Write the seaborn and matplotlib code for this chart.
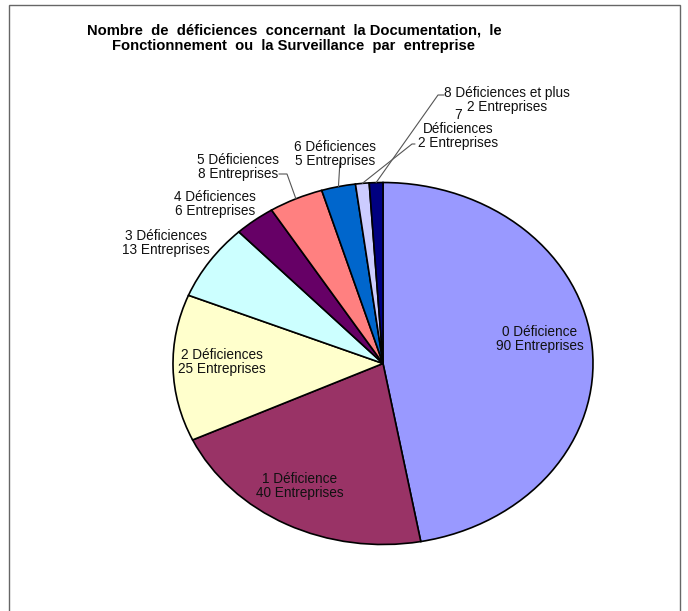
import matplotlib
matplotlib.use("Agg")
import matplotlib.pyplot as plt
import seaborn as sns
import numpy as np
from matplotlib.patches import Rectangle

# ---- data ----
categories = ["0 Déficience", "1 Déficience", "2 Déficiences", "3 Déficiences",
              "4 Déficiences", "5 Déficiences", "6 Déficiences", "7\nDéficiences",
              "8 Déficiences et plus"]
entreprises = [90, 40, 25, 13, 6, 8, 5, 2, 2]
colors = ["#9999FF", "#993366", "#FFFFCC", "#CCFFFF", "#660066",
          "#FF8080", "#0066CC", "#CCCCFF", "#000080"]
title = ("Nombre  de  déficiences  concernant  la Documentation,  le\n"
         "Fonctionnement  ou  la Surveillance  par  entreprise")

sns.set_theme(style="white")
plt.rcParams['font.family'] = ['Liberation Sans', 'DejaVu Sans']

W, H = 688, 611
fig = plt.figure(figsize=(W / 100, H / 100), dpi=100)

# ellipse geometry (pixels)
CX, CY, RX, RY = 383, 363.5, 210, 181
ax = fig.add_axes([(CX - RX) / W, (H - CY - RY) / H, 2 * RX / W, 2 * RY / H])

wedges, _ = ax.pie(entreprises, colors=colors, startangle=90, counterclock=False,
                   wedgeprops=dict(edgecolor="black", linewidth=1.2))
ax.set_aspect('auto')
ax.set_xlim(-1, 1)
ax.set_ylim(-1, 1)
ax.axis('off')

def px(x, y):
    return ((x - CX) / RX, (CY - y) / RY)

labels = [f"{c}\n{v} Entreprises" for c, v in zip(categories, entreprises)]
# label centers (pixels) – layout
label_pos = [(540, 339), (300, 486), (222, 362), (166, 243), (215, 204),
             (238, 167), (335, 154), (458, 129), (507, 100)]
fs = 9.8
for lab, (lx, ly) in zip(labels, label_pos):
    ax.text(*px(lx, ly), lab, ha="center", va="center", fontsize=fs,
            color="#111111", linespacing=0.98, clip_on=False)

# leader lines from label to wedge edge
def edge_point(i):
    w = wedges[i]
    mid = np.deg2rad((w.theta1 + w.theta2) / 2)
    return np.cos(mid), np.sin(mid)

leaders = {5: [(279, 174), (287, 174)],
           6: [(340, 161)],
           7: [(415, 144), (412, 144)],
           8: [(444, 95), (438, 95)]}
for i, pts in leaders.items():
    xs = [px(*p)[0] for p in pts]
    ys = [px(*p)[1] for p in pts]
    ex, ey = edge_point(i)
    xs.append(ex)
    ys.append(ey)
    ax.plot(xs, ys, color="#555555", linewidth=0.8, clip_on=False)

fig.text(294 / W, 1 - 38.5 / H, title, ha="center", va="center", fontsize=10.6,
         fontweight="bold", linespacing=1.15, color="#000000")

# outer border
fig.patches.append(Rectangle((9 / W, -0.01), (680 - 9) / W, 1 - 5 / H + 0.01,
                             transform=fig.transFigure, fill=False,
                             edgecolor="#666666", linewidth=1.0))

fig.savefig("out.png", dpi=100)
